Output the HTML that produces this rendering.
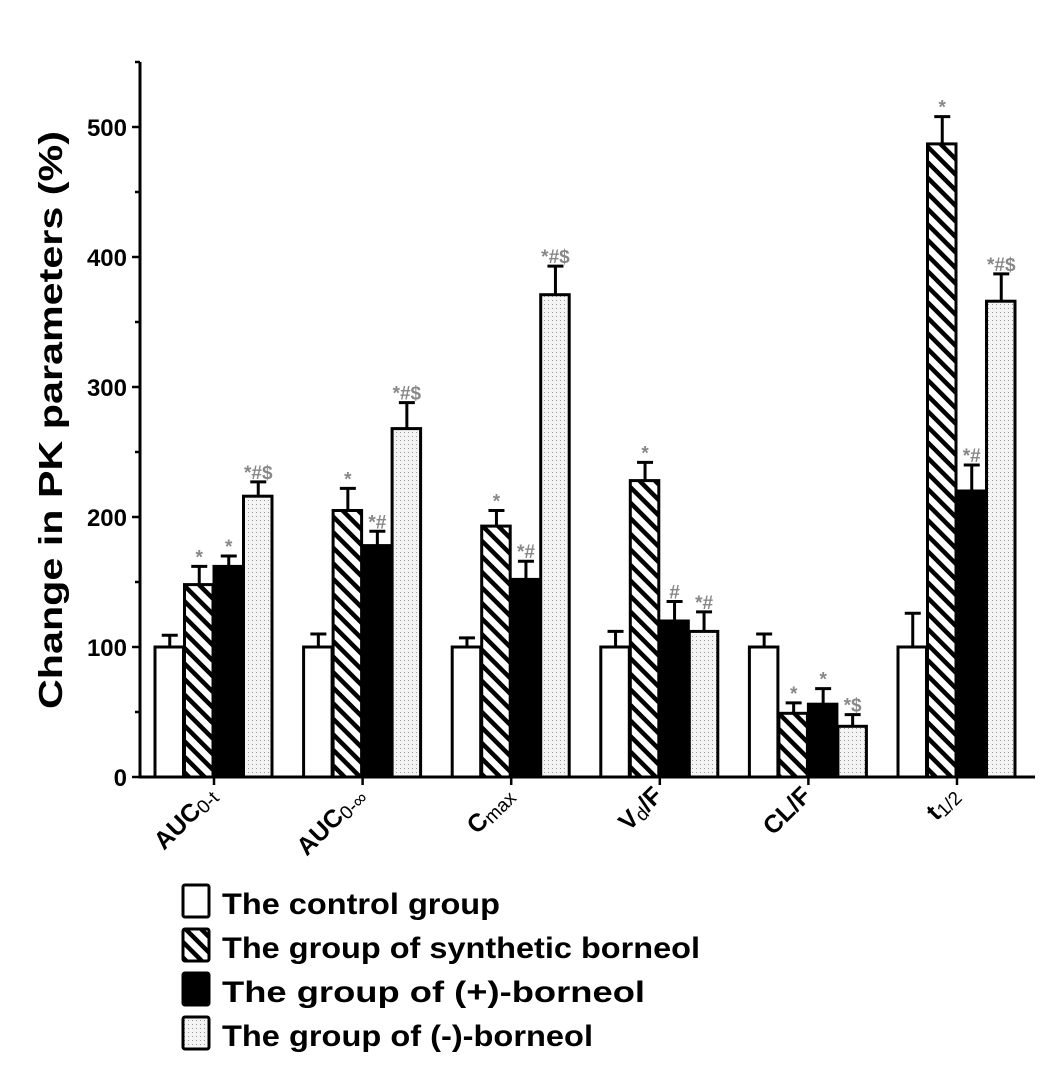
<!DOCTYPE html>
<html><head><meta charset="utf-8"><style>
body{margin:0;background:#fff;}
svg{display:block;font-family:"Liberation Sans",Arial,sans-serif;}
</style></head><body>
<svg id="chart" width="1063" height="1091" viewBox="0 0 1063 1091">
<defs>
<pattern id="hatch" patternUnits="userSpaceOnUse" width="11" height="11" patternTransform="rotate(-45)">
<rect width="11" height="11" fill="#fff"/><rect width="4.5" height="11" fill="#000"/></pattern>
<pattern id="dots" patternUnits="userSpaceOnUse" width="4" height="4">
<rect width="4" height="4" fill="#f4f4f4"/><rect width="1" height="1" fill="#999"/></pattern>
</defs>
<g id="plot"></g>
<text transform="translate(62,420) rotate(-90)" text-anchor="middle" font-size="33" font-weight="bold" textLength="578" lengthAdjust="spacingAndGlyphs">Change in PK parameters (%)</text>
<g id="legend"></g>
</svg>
<script>
const categories=["AUC0-t","AUC0-∞","Cmax","Vd/F","CL/F","t1/2"];
const catMain=["AUC","AUC","C","V","CL/F","t"];
const catSub=["0-t","0-∞","max","d","","1/2"];
const catTail=["","","","/F","",""];
const seriesNames=["The control group","The group of synthetic borneol","The group of (+)-borneol","The group of (-)-borneol"];
const control=[100,100,100,100,100,100];
const controlErr=[9,10,7,12,10,26];
const synthetic=[148,205,193,228,49,487];
const syntheticErr=[14,17,12,14,8,21];
const plus=[162,178,152,120,56,220];
const plusErr=[8,11,14,15,12,20];
const minus=[216,268,371,112,39,366];
const minusErr=[11,20,22,15,9,21];
const marks=[["","","","","",""],["*","*","*","*","*","*"],["*","*#","*#","#","*","*#"],["*#$","*#$","*#$","*#","*$","*#$"]];
const yTicks=[0,100,200,300,400,500];
const legendWidths=[278,478,423,371];
const NS="http://www.w3.org/2000/svg";
const x0=140,xEnd=1035,yBase=777,pxPer=1.3,yTop=62;
const groupStart=155,groupStep=148.6,barW=29.5;
const y=v=>yBase-v*pxPer;
const bx=(g,s)=>groupStart+g*groupStep+s*barW;
function el(t,a,p){const e=document.createElementNS(NS,t);for(const k in a)e.setAttribute(k,a[k]);(p||plot).appendChild(e);return e;}
const plot=document.getElementById('plot');
const series=[control,synthetic,plus,minus],errs=[controlErr,syntheticErr,plusErr,minusErr];
const fills=["#fff","url(#hatch)","#000","url(#dots)"];
series.forEach((vals,s)=>vals.forEach((v,g)=>{
 const x=bx(g,s),top=y(v+errs[s][g]),cx=x+barW/2;
 const l=el('line',{x1:cx,x2:cx,y1:y(v),y2:top,stroke:'#000','stroke-width':3});
 
 
 const c=el('line',{x1:cx-8,x2:cx+8,y1:top,y2:top,stroke:'#000','stroke-width':3});
 
 
 const r=el('rect',{x:x,y:y(v),width:barW-1,height:v*pxPer,fill:fills[s],stroke:'#000','stroke-width':3});
 
 
 if(marks[s][g]){const t=el('text',{x:cx,y:top-3,'text-anchor':'middle','font-size':19,fill:'#888','font-weight':'bold'});t.textContent=marks[s][g];
 
 }
}));
const ax=el('path',{d:`M${x0},${yTop}V${yBase}H${xEnd}`,fill:'none',stroke:'#000','stroke-width':3});


for(let v=0;v<=550;v+=50){const major=v%100===0;const t=el('line',{x1:x0-(major?8:5),x2:x0,y1:y(v),y2:y(v),stroke:'#000','stroke-width':2.5});
 
 }
yTicks.forEach(v=>{const t=el('text',{x:x0-13,y:y(v)+9,'text-anchor':'end','font-size':24,'font-weight':'bold'});t.textContent=v;
 
 });
categories.forEach((c,g)=>{const cx=groupStart+g*groupStep+2*barW;
 const tk=el('line',{x1:cx,x2:cx,y1:yBase,y2:yBase+8,stroke:'#000','stroke-width':2.5});
 
 
 const t=el('text',{transform:`translate(${cx+4},${yBase+20}) rotate(-45)`,'text-anchor':'end','font-size':25,'font-weight':'bold'});
 
 
 t.innerHTML=`<tspan>${catMain[g]}</tspan><tspan font-weight="normal" font-size="19" dy="3">${catSub[g]}</tspan><tspan dy="-3">${catTail[g]}</tspan>`;
});
const lg=document.getElementById('legend');
seriesNames.forEach((n,i)=>{const yy=885+i*44;
 const r=el('rect',{x:183,y:yy,width:26,height:32,rx:2,fill:fills[i],stroke:'#000','stroke-width':3},lg);
 
 
 const t=el('text',{x:222,y:yy+29,'font-size':30,'font-weight':'bold',textLength:legendWidths[i],lengthAdjust:'spacingAndGlyphs'},lg);t.textContent=n;
 
 
});
</script>
</body></html>
